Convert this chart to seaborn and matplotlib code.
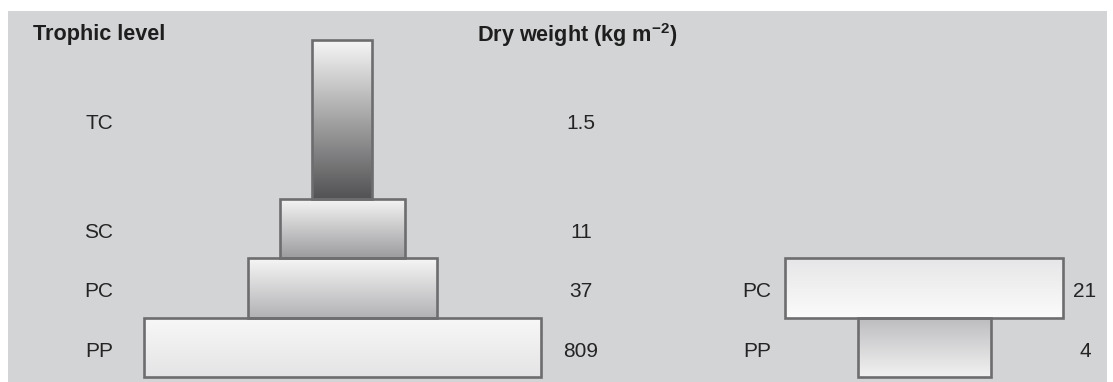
import numpy as np
import matplotlib
matplotlib.use("Agg")
import matplotlib.pyplot as plt
from matplotlib.colors import LinearSegmentedColormap
import seaborn as sns

# Pyramid 1 (bottom to top): trophic levels, dry weights and schematic box sizes
left_levels = ["PP", "PC", "SC", "TC"]
left_dry_weight = ["809", "37", "11", "1.5"]
left_box_width = [397, 189, 125, 60]
left_box_height = [1.0, 1.0, 1.0, 2.68]
left_shade_top = ["#f8f8f8", "#f6f6f6", "#f6f6f6", "#f6f6f6"]
left_shade_bottom = ["#e4e4e6", "#b2b2b5", "#9c9c9f", "#525254"]

# Pyramid 2 (bottom to top)
right_levels = ["PP", "PC"]
right_dry_weight = ["4", "21"]
right_box_width = [133, 278]
right_box_height = [1.0, 1.0]
right_shade_top = ["#bcbcbf", "#e6e6e8"]
right_shade_bottom = ["#f2f2f2", "#fbfbfb"]

header_left = "Trophic level"
header_right = r"Dry weight (kg m$^{\mathbf{-2}}$)"

sns.set_theme(style="white")
plt.rcParams["font.family"] = ["Liberation Sans", "DejaVu Sans"]
plt.rcParams["mathtext.fontset"] = "custom"
plt.rcParams["mathtext.rm"] = "Liberation Sans"
plt.rcParams["mathtext.bf"] = "Liberation Sans:bold"

W, H = 1113, 382
fig = plt.figure(figsize=(W / 100, H / 100), dpi=100, facecolor="white")
ax = fig.add_axes([8 / W, 0, 1099 / W, 371 / H])
ax.set_facecolor("#d3d4d6")
ax.set_axis_off()
ax.add_patch(plt.Rectangle((0, 0), 1, 1, transform=ax.transAxes,
                           facecolor="#d3d4d6", edgecolor="none", zorder=0))

EDGE = "#6d6d6f"
TEXT = "#242424"


def pyramid(center, widths, heights, tops, bottoms):
    bottoms_y = np.concatenate([[0.0], np.cumsum(heights)[:-1]])
    bars = ax.bar(center, heights, width=widths, bottom=bottoms_y,
                  facecolor="none", edgecolor=EDGE, linewidth=1.9, zorder=3)
    grad = np.linspace(0, 1, 256).reshape(-1, 1)
    for bar, c_top, c_bot in zip(bars, tops, bottoms):
        x0, y0 = bar.get_x(), bar.get_y()
        x1, y1 = x0 + bar.get_width(), y0 + bar.get_height()
        cmap = LinearSegmentedColormap.from_list("shade", [c_top, c_bot])
        im = ax.imshow(grad, cmap=cmap, aspect="auto", origin="upper",
                       extent=[x0, x1, y0, y1], interpolation="bilinear",
                       zorder=2)
        im.set_clip_path(bar)
    return bottoms_y


ly = pyramid(334, left_box_width, left_box_height, left_shade_top, left_shade_bottom)
ry = pyramid(916, right_box_width, right_box_height, right_shade_top, right_shade_bottom)
ax.set_xlim(0, 1099)
ax.set_ylim(-0.084, 6.17)

FS = 15
for y0, h, lab, val in zip(ly, left_box_height, left_levels, left_dry_weight):
    yc = y0 + h / 2 - 0.03
    ax.text(91, yc, lab, ha="center", va="center_baseline", fontsize=FS, color=TEXT)
    ax.text(573, yc, val, ha="center", va="center_baseline", fontsize=FS, color=TEXT)

for y0, h, lab, val in zip(ry, right_box_height, right_levels, right_dry_weight):
    yc = y0 + h / 2 - 0.03
    ax.text(749, yc, lab, ha="center", va="center_baseline", fontsize=FS, color=TEXT)
    ax.text(1077, yc, val, ha="center", va="center_baseline", fontsize=FS, color=TEXT)

ax.text(25, 5.82, header_left, ha="left", va="center_baseline", fontsize=15.6,
        fontweight="bold", color="#1e1e1e")
ax.text(469, 5.82, header_right, ha="left", va="center_baseline", fontsize=15.6,
        fontweight="bold", color="#1e1e1e")

fig.savefig("out.png", dpi=100, facecolor="white")
